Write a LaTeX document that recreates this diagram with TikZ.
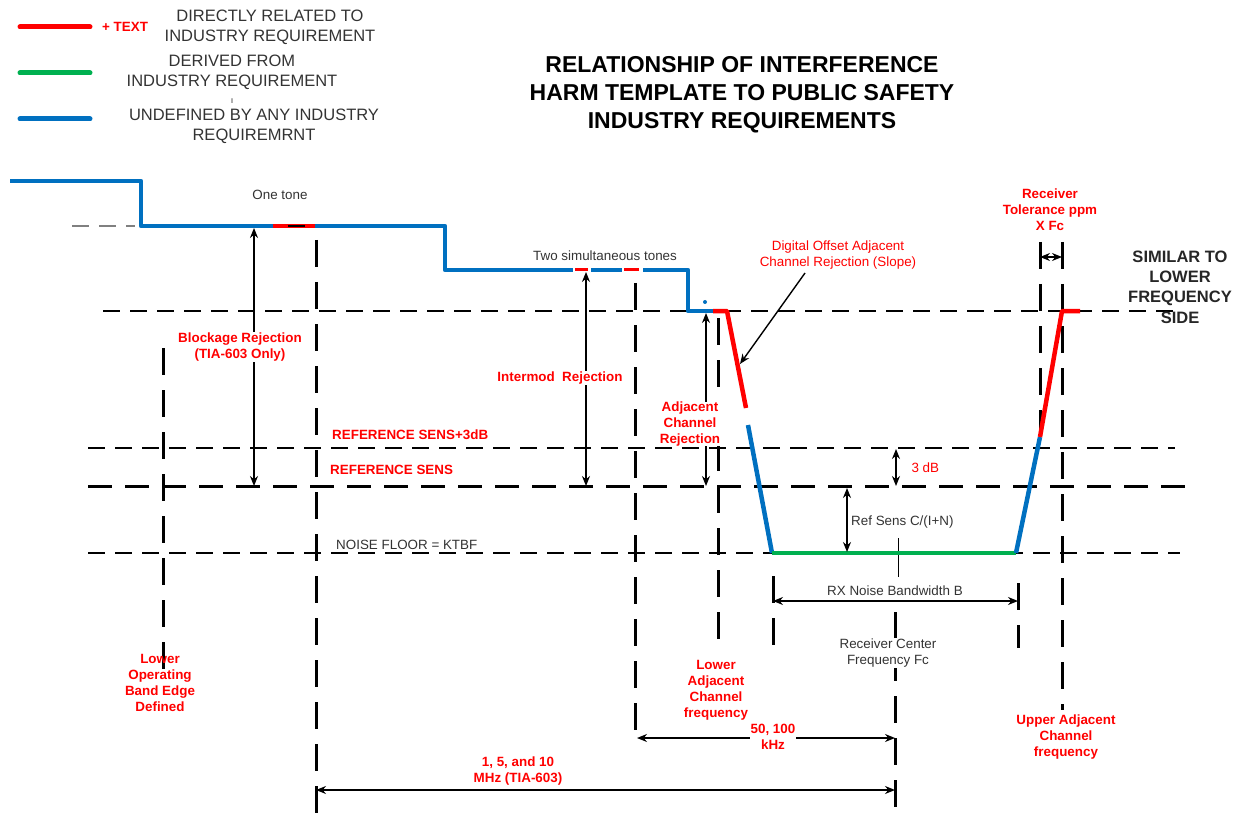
\documentclass[tikz,border=0pt]{standalone}
\usepackage{fontspec}
\setmainfont{Liberation Sans}
\usepackage{xcolor}
\usetikzlibrary{arrows.meta,positioning,calc}

\definecolor{reqred}{HTML}{FF0000}
\definecolor{reqgreen}{HTML}{00B050}
\definecolor{reqblue}{HTML}{0070C0}
\definecolor{txtgray}{HTML}{333333}

\begin{document}
\begin{tikzpicture}[x=1pt, y=-1pt,
    harm/.style={line width=4.5pt, line join=round},
    undef/.style={harm, draw=reqblue},
    direct/.style={harm, draw=reqred},
    derived/.style={harm, draw=reqgreen},
    legend_line/.style={line width=5pt, line cap=round},
    vguide/.style={black, line width=3pt, dash pattern=on 27pt off 15pt},
    hguide/.style={black, line width=1.8pt, dash pattern=on 17pt off 10pt},
    refguide/.style={black, line width=3pt, dash pattern=on 24pt off 13pt},
    dim/.style={<->, >={Stealth[length=10pt, width=8pt]}, line width=1.4pt},
    red_label/.style={text=reqred, font=\fontsize{13.4}{16}\selectfont\bfseries, align=center, inner sep=1pt},
    gray_label/.style={text=txtgray, font=\fontsize{13.4}{16}\selectfont, align=center, inner sep=1pt},
    legend_text/.style={text=txtgray, font=\fontsize{16.5}{20}\selectfont, align=center, inner sep=0pt},
    title_text/.style={font=\fontsize{23}{28}\selectfont\bfseries, align=center}
]
\useasboundingbox (0,0) rectangle (1243,821);

% --- LEGEND ---
\draw[legend_line, reqred] (20,27) -- (90,27);
\node[red_label, anchor=west] (plustext) at (101,27) {+ TEXT};
\node[legend_text] (legdirect) at (270,27) {DIRECTLY RELATED TO\\INDUSTRY REQUIREMENT};
\draw[legend_line, reqgreen] (20,73) -- (90,73);
\node[legend_text] (legderived) at (232,72) {DERIVED FROM\\INDUSTRY REQUIREMENT};
\node[text=txtgray, font=\fontsize{9}{9}\selectfont, inner sep=0pt] (legmark) at (232,101) {ı};
\draw[legend_line, reqblue] (20,119) -- (90,119);
\node[legend_text] (legundef) at (254,126) {UNDEFINED BY ANY INDUSTRY\\REQUIREMRNT};

% --- TITLE ---
\node[title_text] (title) at (742,95) {RELATIONSHIP OF INTERFERENCE\\HARM TEMPLATE TO PUBLIC SAFETY\\INDUSTRY REQUIREMENTS};

% --- GUIDE LINES ---
\draw[hguide, gray] (72,226) -- (135,226);
\draw[hguide] (103,311) -- (1175,311);
\draw[hguide] (88,448) -- (1175,448);
\draw[refguide] (88,486) -- (1185,486);
\draw[hguide] (88,553) -- (1180,553);

\foreach \x/\ya/\yb in {163/348/682, 316/240/821, 635/283/745, 718/318/648,
                        773/576/648, 1018/583/648, 895/612/821, 1040/242/445, 1062/242/710} {
    \draw[vguide] (\x,\ya) -- (\x,\yb);
}
\draw[line width=1pt] (898,538) -- (898,577);

% --- HARM TEMPLATE ---
\draw[undef] (10,181) -- (141,181) -- (141,226) -- (273,226);
\draw[direct] (273,226) -- (315,226);
\draw[line width=1.8pt] (288,226) -- (305,226);
\draw[undef] (315,226) -- (445,226) -- (445,270) -- (573,270);
\draw[direct, line width=3pt] (575,270) -- (588,270);
\draw[undef] (591,270) -- (622,270);
\draw[direct, line width=3pt] (624,270) -- (639,270);
\draw[undef] (643,270) -- (688,270) -- (688,311) -- (713,311);
\draw[direct] (713,311) -- (727,311) -- (746,408);
\draw[undef] (748,425) -- (772,553);
\draw[derived] (772,553) -- (1016,553);
\draw[undef] (1016,553) -- (1040,437);
\draw[direct] (1040,437) -- (1062,311) -- (1080,311);
\fill[reqblue] (705,302) circle (2pt);

% --- DIMENSIONS ---
\coordinate (blkTop) at (254,228);   \coordinate (blkBot) at (254,486);
\coordinate (imTop) at (586,272);    \coordinate (imBot) at (586,486);
\coordinate (acrTop) at (706,313);   \coordinate (acrBot) at (706,486);
\coordinate (slopeFrom) at (805,273); \coordinate (slopeTo) at (740,364);
\coordinate (tolL) at (1040,257);    \coordinate (tolR) at (1062,257);
\coordinate (tdbTop) at (896,449);   \coordinate (tdbBot) at (896,486);
\coordinate (snrTop) at (847,488);   \coordinate (snrBot) at (847,552);
\coordinate (bwL) at (773,601);      \coordinate (bwR) at (1018,601);
\coordinate (kHzL) at (637,738);     \coordinate (kHzR) at (895,738);
\coordinate (MHzL) at (316,790);     \coordinate (MHzR) at (895,790);

\draw[dim] (blkTop) -- (blkBot);
\draw[dim] (imTop) -- (imBot);
\draw[dim] (acrTop) -- (acrBot);
\draw[->, >={Stealth[length=10pt, width=8pt]}, line width=1.4pt] (slopeFrom) -- (slopeTo);
\draw[dim] (tolL) -- (tolR);
\draw[dim] (tdbTop) -- (tdbBot);
\draw[dim] (snrTop) -- (snrBot);
\draw[dim] (bwL) -- (bwR);
\draw[dim] (kHzL) -- (kHzR);
\draw[dim] (MHzL) -- (MHzR);

% --- LABELS ---
\node[gray_label] (onetone) at (280,195) {One tone};
\node[gray_label] (twotones) at (605,256) {Two simultaneous tones};
\node[red_label, fill=white] (blocking) at (240,347) {Blockage Rejection\\(TIA-603 Only)};
\node[red_label, fill=white] (intermod) at (560,378) {Intermod~ Rejection};
\node[red_label, fill=white, inner sep=0pt] (adjacent) at (690,424) {Adjacent\\Channel\\Rejection};
\node[text=reqred, font=\fontsize{13.4}{16}\selectfont, align=center] (digital) at (838,255) {Digital Offset Adjacent\\Channel Rejection (Slope)};
\node[red_label, anchor=west] (refsens3) at (331,435) {REFERENCE SENS+3dB};
\node[red_label, anchor=west] (refsens) at (329,470) {REFERENCE SENS};
\node[gray_label, anchor=west] (noisefloor) at (335,545) {NOISE FLOOR = KTBF};
\node[text=reqred, font=\fontsize{13.4}{16}\selectfont, anchor=west] (threedb) at (908,468) {3 dB};
\node[gray_label, anchor=west] (snr) at (850,522) {Ref Sens C/(I+N)};
\node[gray_label] (bwtext) at (895,591) {RX Noise Bandwidth B};
\node[gray_label, fill=white] (center) at (888,653) {Receiver Center\\Frequency Fc};
\node[red_label] (bandedge) at (160,683) {Lower\\Operating\\Band Edge\\Defined};
\node[red_label] (loweradj) at (716,690) {Lower\\Adjacent\\Channel\\frequency};
\node[red_label] (upperadj) at (1066,737) {Upper Adjacent\\Channel\\frequency};
\node[red_label, fill=white] (khz) at (773,737) {50, 100\\kHz};
\node[red_label] (mhz) at (518,771) {1, 5, and 10\\MHz (TIA-603)};
\node[red_label] (tolerance) at (1050,210) {Receiver\\Tolerance ppm\\X Fc};
\node[font=\fontsize{16.5}{20.3}\selectfont\bfseries, text=black!85, align=center] (similar) at (1180,287) {SIMILAR TO\\LOWER\\FREQUENCY\\SIDE};

\end{tikzpicture}
\end{document}
